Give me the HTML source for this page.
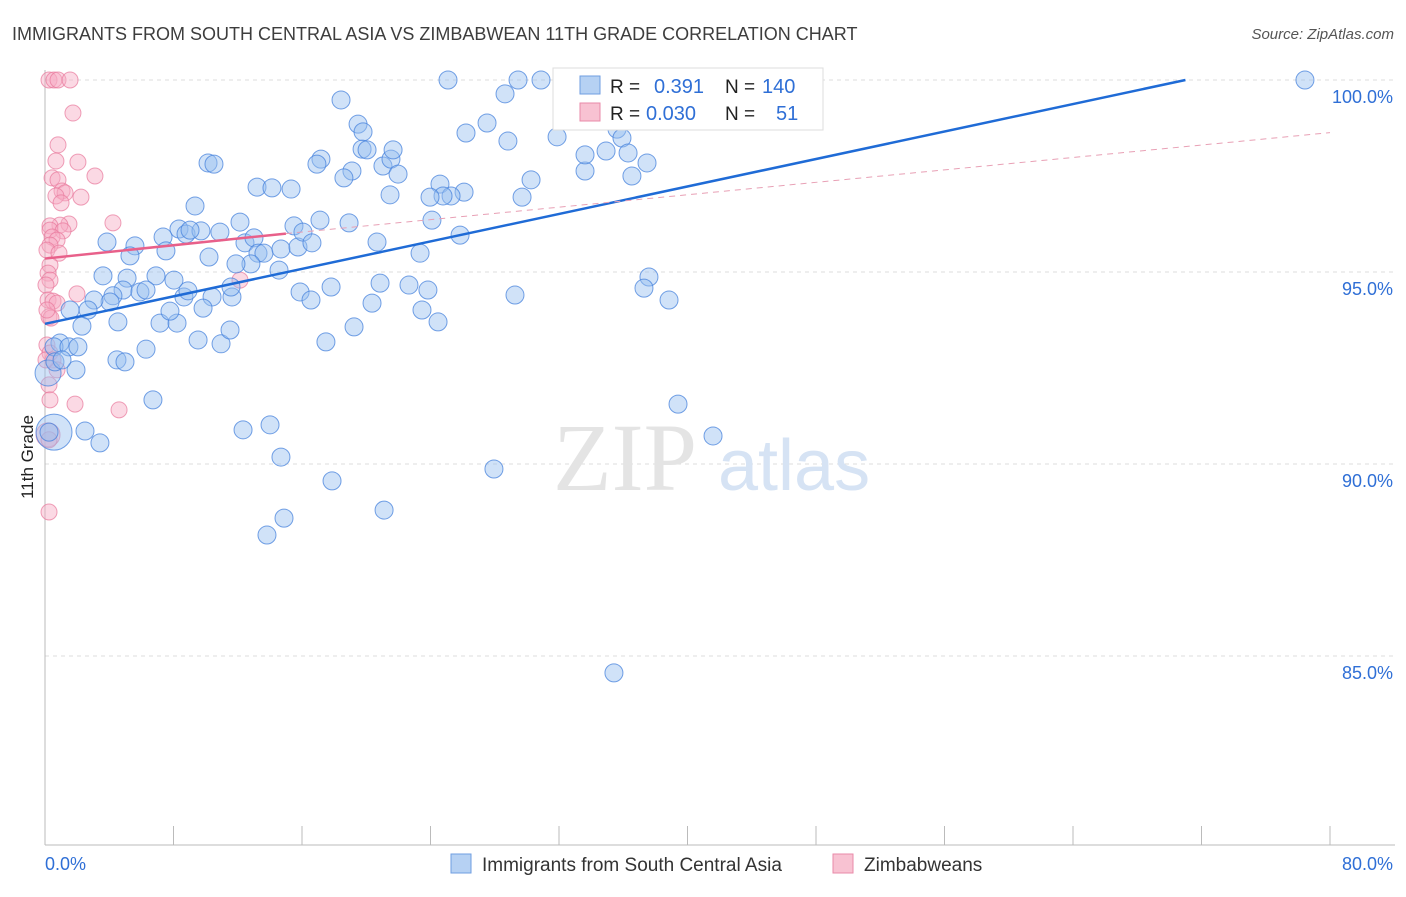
<!DOCTYPE html>
<html><head><meta charset="utf-8"><style>
body{margin:0;background:#fff;font-family:"Liberation Sans",sans-serif}
</style></head><body>
<svg id="chart" width="1406" height="892" xmlns="http://www.w3.org/2000/svg" font-family="Liberation Sans, sans-serif">
<text x="12" y="40" font-size="18" fill="#3d3d3d">IMMIGRANTS FROM SOUTH CENTRAL ASIA VS ZIMBABWEAN 11TH GRADE CORRELATION CHART</text>
<text x="1394" y="39" font-size="15" font-style="italic" fill="#555" text-anchor="end">Source: ZipAtlas.com</text>
<text transform="translate(33,457) rotate(-90)" font-size="17" fill="#222" text-anchor="middle">11th Grade</text>
<g id="grid"></g>
<text x="553" y="490" font-size="96" font-family="Liberation Serif, serif" fill="#e4e4e4">ZIP</text>
<text x="718" y="490" font-size="72" fill="#d6e3f4">atlas</text>
<g id="pts"></g>
<g id="lines"></g>
<g>
<rect x="553" y="68" width="270" height="62" fill="#fff" stroke="#ddd"/>
<rect x="580" y="76" width="20" height="18" fill="#b6d1f3" stroke="#6f9ee0"/>
<rect x="580" y="103" width="20" height="18" fill="#f8c2d2" stroke="#e98aa8"/>
<text x="610" y="93" font-size="19" fill="#222">R =</text><text x="654" y="93" font-size="20" fill="#2f6fd6">0.391</text>
<text x="725" y="93" font-size="19" fill="#222">N =</text><text x="762" y="93" font-size="20" fill="#2f6fd6">140</text>
<text x="610" y="120" font-size="19" fill="#222">R =</text><text x="646" y="120" font-size="20" fill="#2f6fd6">0.030</text>
<text x="725" y="120" font-size="19" fill="#222">N =</text><text x="776" y="120" font-size="20" fill="#2f6fd6">51</text>
</g>
<g>
<rect x="451" y="854" width="20" height="19" fill="#b6d1f3" stroke="#6f9ee0"/>
<text x="482" y="871" font-size="19" fill="#333">Immigrants from South Central Asia</text>
<rect x="833" y="854" width="20" height="19" fill="#f8c2d2" stroke="#e98aa8"/>
<text x="864" y="871" font-size="19" fill="#333">Zimbabweans</text>
</g>
</svg>
<script>
const xTicksPct=[0,80];
const yTicks=[100,95,90,85];
const blueX=[448,518,541,1305,341,505,487,466,358,363,508,557,617,622,606,628,647,585,632,208,214,321,317,352,362,367,383,391,393,398,344,257,272,291,440,464,451,443,430,390,531,522,195,240,294,320,349,432,460,179,186,201,220,163,107,135,130,166,245,254,258,264,251,236,281,298,303,312,377,420,279,103,127,156,174,123,113,140,146,110,94,88,70,60,54,69,78,76,48,55,62,54,49,85,100,117,146,125,153,82,118,160,177,170,184,188,212,232,231,203,198,221,230,190,209,300,311,331,326,354,372,380,409,428,422,438,649,644,669,678,713,494,614,243,270,281,332,384,284,267,515,585].map(p=>+((p-45)/16.0625).toFixed(2));
const blueY=[80,80,80,80,100,94,123,133,124,132,141,137,129,138,151,153,163,171,176,163,164,159,164,171,149,150,166,159,150,174,178,187,188,189,184,192,196,196,197,195,180,197,206,222,226,220,223,220,235,229,234,231,232,237,242,246,256,251,243,238,253,253,264,264,249,247,232,243,242,253,270,276,278,276,280,290,296,292,290,302,300,310,310,343,347,347,347,370,373,362,360,432,432,431,443,360,349,362,400,326,322,323,323,311,297,291,297,297,287,308,340,344,330,230,257,292,300,287,342,327,303,283,285,290,310,322,277,288,300,404,436,469,673,430,425,457,481,510,518,535,295,155].map(p=>+(100-(p-80)/38.4).toFixed(2));
const blueR=blueY.map((v,i)=>i===91?18:(i===88?13:9));
const pinkX=[49,54,58,70,73,58,56,78,95,52,58,62,65,56,81,61,69,60,50,50,63,52,57,50,47,59,50,48,50,46,48,53,77,57,49,51,47,50,53,57,49,50,75,119,48,49,49,113,240,47,46].map(p=>+((p-45)/16.0625).toFixed(2));
const pinkY=[80,80,80,80,113,145,161,162,176,178,180,191,193,196,197,203,224,225,226,230,231,237,240,245,250,253,265,273,280,285,300,301,294,303,317,318,345,353,360,370,385,400,404,410,435,440,512,223,280,310,360].map(p=>+(100-(p-80)/38.4).toFixed(2));
const blueLine=[[0,93.65],[71.0,100]];
const pinkSolid=[[0,95.35],[15,96.0]];
const pinkDash=[[15,96.0],[80,98.63]];
const X=v=>45+v*16.0625, Y=v=>80+(100-v)*38.4;
const NS="http://www.w3.org/2000/svg";
function mk(t,a,parent){const e=document.createElementNS(NS,t);for(const k in a)e.setAttribute(k,a[k]);parent.appendChild(e);return e;}
const grid=document.getElementById('grid');
yTicks.forEach(v=>{
 const l=mk('line',{x1:45,x2:1395,y1:Y(v),y2:Y(v),stroke:'#ddd','stroke-dasharray':'4,4'},grid);
 
 
 const t=mk('text',{x:1393,y:Y(v)+23,'font-size':18,fill:'#2f6fd6','text-anchor':'end'},grid);t.textContent=v.toFixed(1)+'%';
 
 
});
mk('line',{x1:45,x2:45,y1:70,y2:845,stroke:'#bbb'},grid);
mk('line',{x1:45,x2:1395,y1:845,y2:845,stroke:'#bbb'},grid);
for(let i=0;i<=10;i++){const x=X(i*8);const l=mk('line',{x1:x,x2:x,y1:826,y2:845,stroke:'#bbb'},grid);
 
 }
xTicksPct.forEach((v,i)=>{const t=mk('text',{x:i?1393:45,y:870,'font-size':18,fill:'#2f6fd6','text-anchor':i?'end':'start'},grid);t.textContent=v.toFixed(1)+'%';
 
 });
const pts=document.getElementById('pts');
pinkX.forEach((x,i)=>{const c=mk('circle',{cx:X(x),cy:Y(pinkY[i]),r:(i===44?12:8),fill:'rgba(246,170,195,0.45)',stroke:'rgba(232,120,155,0.7)'},pts);
 
 });
blueX.forEach((x,i)=>{const c=mk('circle',{cx:X(x),cy:Y(blueY[i]),r:blueR[i],fill:'rgba(150,190,240,0.45)',stroke:'rgba(70,130,220,0.75)'},pts);
 
 });
const lg=document.getElementById('lines');
const b=mk('line',{x1:X(blueLine[0][0]),y1:Y(blueLine[0][1]),x2:X(blueLine[1][0]),y2:Y(blueLine[1][1]),stroke:'#1f6bd6','stroke-width':2.5},lg);


const p=mk('line',{x1:X(pinkSolid[0][0]),y1:Y(pinkSolid[0][1]),x2:X(pinkSolid[1][0]),y2:Y(pinkSolid[1][1]),stroke:'#e8608a','stroke-width':2.5},lg);


const d=mk('line',{x1:X(pinkDash[0][0]),y1:Y(pinkDash[0][1]),x2:X(pinkDash[1][0]),y2:Y(pinkDash[1][1]),stroke:'#e8a0b5','stroke-width':1,'stroke-dasharray':'6,5'},lg);


</script>
</body></html>
